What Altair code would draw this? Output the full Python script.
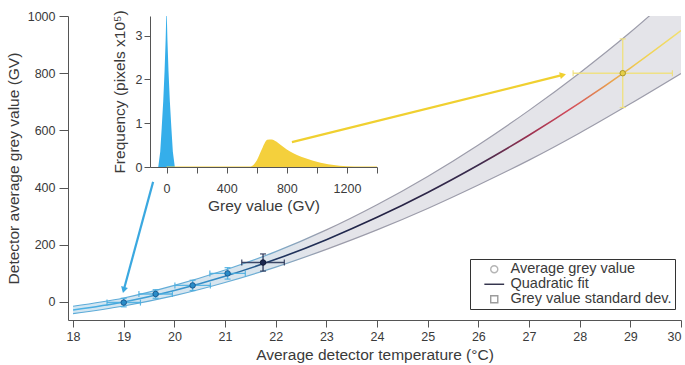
import math
import altair as alt
import pandas as pd

FONT = "Liberation Sans"
INK = "#3a3a3a"
AXIS_INK = "#555555"

# Quadratic fit of the detector's average grey value, with its standard deviation
fit_temp = [18, 19, 20, 21, 22, 23, 24, 25, 26, 27, 28, 29, 30]
fit_gv = [-28, 0, 40, 90, 149, 218, 296, 383, 479, 583, 696, 818, 949]
fit_std = [13, 14, 18, 22, 27, 34, 44, 56, 70, 87, 105, 125, 150]

# Measured average grey values and their spread
pt_temp = [19.0, 19.63, 20.36, 21.05, 21.75, 28.85]
pt_gv = [-2, 28, 58, 100, 138, 800]
pt_temp_err = [0.33, 0.33, 0.35, 0.35, 0.42, 0.98]
pt_gv_err = [15, 15, 18, 20, 30, 120]
pt_group = ["cold", "cold", "cold", "cold", "mid", "hot"]

# Grey-value histograms of a cold and a warm detector frame
cold_hist_gv = [-55, -42, -32, -22, -13, -6, 0, 6, 13, 22, 32, 42, 55]
cold_hist_freq = [0, 0.35, 0.9, 1.5, 2.2, 2.9, 3.7, 2.9, 2.2, 1.5, 0.9, 0.35, 0]
hot_hist_gv = [0, 560, 600, 640, 670, 700, 730, 760, 800, 850, 900, 950,
               1000, 1050, 1100, 1150, 1250, 1400]
hot_hist_freq = [0.01, 0.01, 0.15, 0.45, 0.62, 0.63, 0.58, 0.5, 0.4, 0.3, 0.23,
                 0.17, 0.12, 0.08, 0.05, 0.03, 0.01, 0.01]

# Arrows linking each histogram to its point on the curve
arrow_name = ["cold", "hot"]
arrow_temp0 = [19.58, 22.32]
arrow_gv0 = [420, 559]
arrow_temp1 = [19.0, 27.67]
arrow_gv1 = [42, 794]

legend_labels = ["Average grey value", "Quadratic fit", "Grey value standard dev."]

# Axis ticks
temp_ticks = list(range(18, 31))
gv_ticks = [0, 200, 400, 600, 800, 1000]
hist_gv_ticks = [0, 200, 400, 600, 800, 1000, 1200, 1400]
freq_ticks = [0, 1, 2, 3]

W, H = 613, 304
TEMP_DOMAIN = [17.9, 30]
GV_DOMAIN = [-63, 1000]

fit_df = pd.DataFrame({
    "temp": fit_temp,
    "gv": fit_gv,
    "lo": [g - s for g, s in zip(fit_gv, fit_std)],
    "hi": [g + s for g, s in zip(fit_gv, fit_std)],
})
pts_df = pd.DataFrame({
    "temp": pt_temp, "gv": pt_gv, "group": pt_group,
    "tlo": [t - e for t, e in zip(pt_temp, pt_temp_err)],
    "thi": [t + e for t, e in zip(pt_temp, pt_temp_err)],
    "glo": [g - e for g, e in zip(pt_gv, pt_gv_err)],
    "ghi": [g + e for g, e in zip(pt_gv, pt_gv_err)],
})

px_per_temp = W / (TEMP_DOMAIN[1] - TEMP_DOMAIN[0])
px_per_gv = H / (GV_DOMAIN[1] - GV_DOMAIN[0])


def heading(t0, g0, t1, g1):
    dx = (t1 - t0) * px_per_temp
    dy = -(g1 - g0) * px_per_gv
    return math.degrees(math.atan2(dx, -dy)) % 360


arrows_df = pd.DataFrame({
    "name": arrow_name, "temp": arrow_temp0, "gv": arrow_gv0,
    "temp1": arrow_temp1, "gv1": arrow_gv1,
    "angle": [heading(a, b, c, d) for a, b, c, d in
              zip(arrow_temp0, arrow_gv0, arrow_temp1, arrow_gv1)],
})
legend_df = pd.DataFrame({"label": legend_labels, "temp": [0, 0, 0], "gv": [0, 0, 0]})
cold_df = pd.DataFrame({"hgv": cold_hist_gv, "freq": cold_hist_freq})
hot_df = pd.DataFrame({"hgv": hot_hist_gv, "freq": hot_hist_freq})

x_axis = alt.Axis(values=temp_ticks, format="d", tickSize=7, labelPadding=3,
                  titlePadding=5, grid=False, labelFlush=3)
y_axis = alt.Axis(values=gv_ticks, format="d", tickSize=9, labelPadding=4,
                  titlePadding=6, grid=False, labelFlush=False)
x_title = "Average detector temperature (°C)"
y_title = "Detector average grey value (GV)"


def X(field):
    return alt.X(f"{field}:Q", scale=alt.Scale(domain=TEMP_DOMAIN, nice=False, zero=False),
                 axis=x_axis, title=x_title)


def Y(field):
    return alt.Y(f"{field}:Q", scale=alt.Scale(domain=GV_DOMAIN, nice=False, zero=False),
                 axis=y_axis, title=y_title)


def grad(stops):
    return {"gradient": "linear", "x1": 0, "y1": 0, "x2": 1, "y2": 0,
            "stops": [{"offset": (t - 18) / 12, "color": c} for t, c in stops]}


fit_colors = grad([(18, "#4fb4e6"), (21, "#3288c2"), (22, "#1f3560"), (24, "#222244"),
                   (26, "#3a2a4c"), (27, "#9a3050"), (27.8, "#d24a5a"),
                   (28.6, "#e9a04e"), (29.2, "#f0d050"), (30, "#f2e070")])
edge_colors = grad([(18, "#5aaad8"), (21.5, "#6aaed6"), (23, "#9c9caa"), (30, "#9c9caa")])
band_fill = grad([(18, "#d2e6f2"), (21.5, "#d9e5ee"), (23, "#e4e4e9"), (30, "#e4e4e9")])

base_fit = alt.Chart(fit_df)
band = base_fit.mark_area(color=band_fill, interpolate="monotone", clip=True).encode(
    x=X("temp"), y=Y("lo"), y2="hi:Q")
edge_hi = base_fit.mark_line(color=edge_colors, strokeWidth=1.2, interpolate="monotone",
                             clip=True).encode(x=X("temp"), y=Y("hi"))
edge_lo = base_fit.mark_line(color=edge_colors, strokeWidth=1.2, interpolate="monotone",
                             clip=True).encode(x=X("temp"), y=Y("lo"))
fit_line = base_fit.mark_line(color=fit_colors, strokeWidth=1.6, interpolate="monotone",
                              clip=True).encode(x=X("temp"), y=Y("gv"))

groups = ["cold", "mid", "hot"]
bar_scale = alt.Scale(domain=groups, range=["#4aaee0", "#2a3558", "#efe07a"])
fill_scale = alt.Scale(domain=groups, range=["#2a8cc8", "#1c2850", "#e6cf48"])
edge_scale = alt.Scale(domain=groups, range=["#1a5a90", "#101a38", "#a8962e"])

base_pts = alt.Chart(pts_df)
t_bars = base_pts.mark_rule(strokeWidth=1.4, opacity=0.9).encode(
    x=X("tlo"), x2="thi:Q", y=Y("gv"),
    stroke=alt.Stroke("group:N", scale=bar_scale, legend=None))
g_bars = base_pts.mark_rule(strokeWidth=1.4, opacity=0.9).encode(
    x=X("temp"), y=Y("glo"), y2="ghi:Q",
    stroke=alt.Stroke("group:N", scale=bar_scale, legend=None))
t_caps = base_pts.transform_fold(["tlo", "thi"], as_=["end", "tend"]).mark_tick(
    orient="vertical", size=6, thickness=1.2, opacity=0.9).encode(
    x=X("tend"), y=Y("gv"),
    color=alt.Color("group:N", scale=bar_scale, legend=None))
g_caps = base_pts.transform_fold(["glo", "ghi"], as_=["end", "gend"]).mark_tick(
    orient="horizontal", size=6, thickness=1.2, opacity=0.9).encode(
    x=X("temp"), y=Y("gend"),
    color=alt.Color("group:N", scale=bar_scale, legend=None))
points = base_pts.mark_point(filled=True, size=30, opacity=1, strokeWidth=1).encode(
    x=X("temp"), y=Y("gv"),
    fill=alt.Fill("group:N", scale=fill_scale, legend=None),
    stroke=alt.Stroke("group:N", scale=edge_scale, legend=None))

arrow_scale = alt.Scale(domain=arrow_name, range=["#3aa8e0", "#f0d030"])
base_arr = alt.Chart(arrows_df)
arrow_lines = base_arr.mark_rule(strokeWidth=2.2).encode(
    x=X("temp"), y=Y("gv"), x2="temp1:Q", y2="gv1:Q",
    stroke=alt.Stroke("name:N", scale=arrow_scale, legend=None))
arrow_heads = base_arr.mark_point(shape="triangle-up", filled=True, size=50, opacity=1).encode(
    x=X("temp1"), y=Y("gv1"), angle=alt.Angle("angle:Q", scale=None),
    fill=alt.Fill("name:N", scale=arrow_scale, legend=None))

key = alt.Legend(title=None, orient="none", legendX=402, legendY=243, padding=3,
                 symbolOffset=14, labelOffset=9, rowPadding=0, labelLimit=400,
                 strokeColor="#333333", fillColor="white", symbolStrokeWidth=1.4,
                 symbolFillColor="#e6e6ec", labelFont=FONT, labelFontSize=14.5,
                 labelColor=INK, symbolSize=50)
key_dummy = alt.Chart(legend_df).mark_point(filled=False, opacity=1, clip=True).encode(
    x=X("temp"), y=Y("gv"),
    color=alt.Color("label:N", scale=alt.Scale(domain=legend_labels,
                    range=["#b5b5b5", "#2b2b45", "#9c9c9c"]), legend=key),
    shape=alt.Shape("label:N", scale=alt.Scale(domain=legend_labels,
                    range=["circle", "M-2.8,0H2.8", "square"]), legend=key))

main = alt.layer(band, edge_hi, edge_lo, fit_line, t_bars, g_bars, t_caps, g_caps,
                 points, arrow_lines, arrow_heads, key_dummy).resolve_scale(
    color="independent", stroke="independent", fill="independent", shape="independent")

# Inset histogram drawn in its own scales inside the plot area
hx_axis = alt.Axis(orient="bottom", offset=-153, values=hist_gv_ticks, format="d",
                   labelExpr="datum.value % 400 === 0 ? datum.label : ''",
                   tickSize=6, labelPadding=9, titlePadding=4, grid=False,
                   labelFlush=False)
hy_axis = alt.Axis(orient="left", offset=-82, values=freq_ticks, format="d",
                   tickSize=6, labelPadding=2, titlePadding=8, grid=False,
                   labelFlush=False)


def HX():
    return alt.X("hgv:Q", scale=alt.Scale(domain=[-110, 1400], range=[82, 309],
                 nice=False, zero=False), axis=hx_axis, title="Grey value (GV)")


def HY():
    return alt.Y("freq:Q", scale=alt.Scale(domain=[0, 3.45], range=[151, 0], nice=False),
                 axis=hy_axis, title="Frequency (pixels x10⁵)")


cold_area = alt.Chart(cold_df).mark_area(color="#35aeea", clip=True,
                                          interpolate="linear").encode(x=HX(), y=HY())
hot_area = alt.Chart(hot_df).mark_area(color="#f4d03c", clip=True,
                                        interpolate="monotone").encode(x=HX(), y=HY())
inset = alt.layer(cold_area, hot_area)

chart = alt.layer(main, inset).resolve_scale(
    x="independent", y="independent"
).properties(
    width=W, height=H,
    padding={"left": 68, "top": 16, "right": 4, "bottom": 45},
    autosize=alt.AutoSizeParams(type="none"),
    background="white",
).configure_view(stroke=None).configure_axis(
    domainColor=AXIS_INK, tickColor=AXIS_INK, labelColor=INK, titleColor=INK,
    labelFont=FONT, titleFont=FONT, labelFontSize=12.5, titleFontSize=15.5,
    titleFontWeight="normal", domainWidth=1, tickWidth=1,
)

chart.save("out.html", embed_options={"renderer": "svg", "actions": False})
